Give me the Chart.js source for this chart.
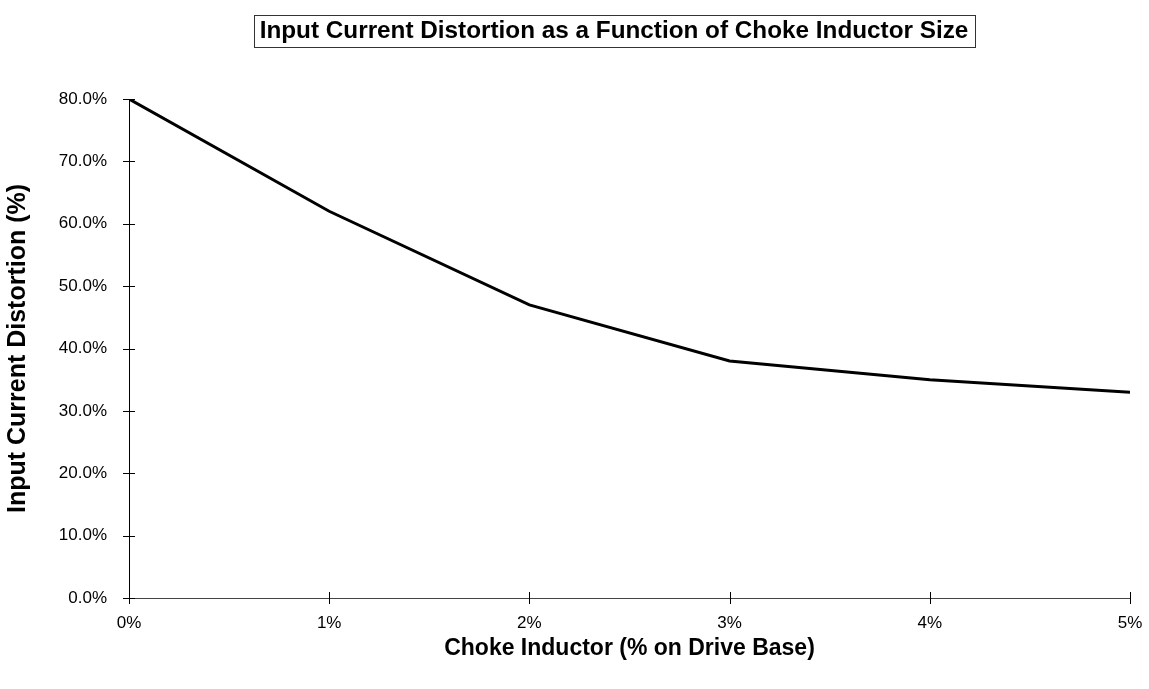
<!DOCTYPE html>
<html>
<head>
<meta charset="utf-8">
<script src="https://cdn.jsdelivr.net/npm/chart.js@4/dist/chart.umd.min.js"></script>
<style>
  body { margin: 0; background: #fff; }
  #wrap { width: 1149px; height: 689px; }
</style>
</head>
<body>
<div id="wrap"><canvas id="chart" width="1149" height="689"></canvas></div>
<script>
var chokeLabels = ["0%", "1%", "2%", "3%", "4%", "5%"];
var chokeSize = [0, 1, 2, 3, 4, 5];
var distortion = [80, 62, 47, 38, 35, 33];
var titleText = "Input Current Distortion as a Function of Choke Inductor Size";
var FONT = "'Liberation Sans', Arial, sans-serif";

// crossing tick marks + boxed title
var decor = {
    id: "decor",
    afterDraw: function (chart) {
        let ctx = chart.ctx;
        let xs = chart.scales.x;
        let ys = chart.scales.y;
        ctx.save();
        ctx.strokeStyle = "#000";
        ctx.lineWidth = 1;
        ctx.beginPath();
        ys.ticks.forEach(function (t) {
            let y = Math.round(ys.getPixelForValue(t.value)) + 0.5;
            ctx.moveTo(xs.left - 6, y);
            ctx.lineTo(xs.left + 6, y);
        });
        xs.ticks.forEach(function (t) {
            let x = Math.round(xs.getPixelForValue(t.value)) + 0.5;
            ctx.moveTo(x, ys.bottom - 6);
            ctx.lineTo(x, ys.bottom + 6);
        });
        ctx.stroke();

        ctx.font = "bold 24.3px " + FONT;
        ctx.fillStyle = "#000";
        ctx.textAlign = "center";
        ctx.textBaseline = "middle";
        let w = ctx.measureText(titleText).width;
        let cx = 614, cy = 31;
        ctx.fillText(titleText, cx, cy);
        ctx.strokeStyle = "#333";
        ctx.strokeRect(Math.round(cx - w / 2 - 6) + 0.5, 15.5, Math.round(w + 12), 32);
        ctx.restore();
    }
};

var config = {
    type: "line",
    data: {
        datasets: [{
            data: chokeSize.map(function (x, i) { return { x: x, y: distortion[i] }; }),
            borderColor: "#000",
            borderWidth: 3,
            pointRadius: 0,
            tension: 0,
            fill: false
        }]
    },
    options: {
        responsive: false,
        animation: false,
        layout: { padding: { top: 99, right: 19, left: 0, bottom: 0 } },
        plugins: { legend: { display: false }, tooltip: { enabled: false } },
        scales: {
            x: {
                type: "linear",
                min: 0, max: 5,
                afterFit: function (s) {
                    s.height = 91;
                    s.paddingLeft = 0;
                    s.paddingRight = 0;
                },
                border: { color: "#444", width: 1 },
                grid: { display: false, drawTicks: false },
                ticks: {
                    stepSize: 1,
                    padding: 15,
                    color: "#000",
                    font: { family: FONT, size: 17 },
                    callback: function (v) { return chokeLabels[v]; }
                },
                title: {
                    display: true,
                    text: "Choke Inductor (% on Drive Base)",
                    color: "#000",
                    font: { family: FONT, size: 23, weight: "bold" },
                    padding: { top: 0, bottom: 27 }
                }
            },
            y: {
                min: 0, max: 80,
                afterFit: function (s) { s.width = 129; },
                border: { color: "#000", width: 1 },
                grid: { display: false, drawTicks: false },
                ticks: {
                    stepSize: 10,
                    padding: 22,
                    color: "#000",
                    font: { family: FONT, size: 17 },
                    callback: function (v) { return v.toFixed(1) + "%"; }
                },
                title: {
                    display: true,
                    text: "Input Current Distortion (%)",
                    color: "#000",
                    font: { family: FONT, size: 25, weight: "bold" },
                    padding: { top: 3, bottom: 0 }
                }
            }
        }
    },
    plugins: [decor]
};

var chart = new Chart(document.getElementById("chart"), config);
</script>
</body>
</html>
